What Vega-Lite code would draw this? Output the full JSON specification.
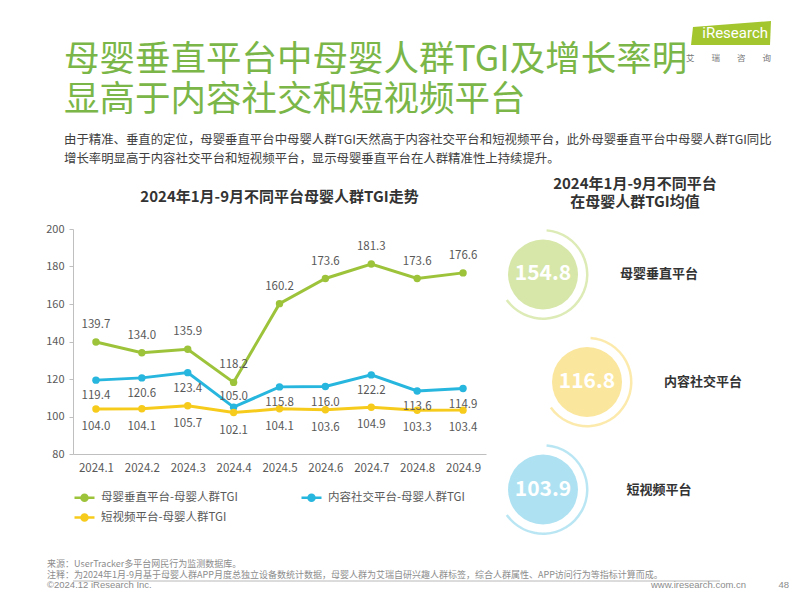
{
  "$schema": "https://vega.github.io/schema/vega-lite/v6.json",
  "background": "white",
  "padding": {"left": 45, "top": 16, "right": 0, "bottom": 0},
  "config": {
    "font": "Noto Sans CJK SC",
    "view": {"stroke": null},
    "title": {"font": "Noto Sans CJK SC"}
  },
  "spacing": 11,
  "vconcat": [
    {
      "width": 698,
      "height": 1,
      "data": {"values": [{"brand": "iResearch", "cn": "艾　　瑞　　咨　　询"}]},
      "title": {
        "text": ["母婴垂直平台中母婴人群TGI及增长率明", "显高于内容社交和短视频平台"],
        "subtitle": ["由于精准、垂直的定位，母婴垂直平台中母婴人群TGI天然高于内容社交平台和短视频平台，此外母婴垂直平台中母婴人群TGI同比", "增长率明显高于内容社交平台和短视频平台，显示母婴垂直平台在人群精准性上持续提升。"],
        "orient": "bottom",
        "anchor": "start",
        "offset": -20,
        "fontSize": 35.5,
        "fontWeight": "normal",
        "lineHeight": 40,
        "color": "#7ab648",
        "subtitleFontSize": 12.4,
        "subtitleColor": "#404040",
        "subtitleLineHeight": 19,
        "subtitlePadding": 16
      },
      "encoding": {
        "x": {"field": "brand", "type": "nominal", "scale": {"type": "point", "align": 1, "padding": 0}, "axis": null},
        "y": {"field": "brand", "type": "nominal", "scale": {"type": "point", "align": 0, "padding": 0}, "axis": {"title": null, "labelExpr": "'\u2003\u2003'", "labelFontSize": 9.5, "labelOpacity": 0, "labelPadding": 5, "tickSize": 4, "tickOpacity": 0, "domain": false, "grid": false}}
      },
      "layer": [
        {"mark": {"type": "point", "shape": "M-7.8,0.6L0,0L-0.1,2.4L-8,2.4Z", "size": 400, "filled": true, "color": "#a3c62f", "opacity": 1}},
        {"mark": {"type": "text", "font": "Roboto", "fontSize": 15, "color": "white", "align": "right", "baseline": "middle", "dx": -3, "dy": 12}, "encoding": {"text": {"field": "brand"}}},
        {"mark": {"type": "text", "fontSize": 8.5, "color": "#777777", "align": "right", "baseline": "middle", "dy": 37}, "encoding": {"text": {"field": "cn"}}}
      ]
    },
    {
      "spacing": 23,
      "vconcat": [
        {
          "spacing": 13,
          "resolve": {"scale": {"color": "independent"}, "legend": {"color": "independent"}},
          "hconcat": [
            {
              "width": 413,
              "height": 225,
              "title": {"text": [" ", "2024年1月-9月不同平台母婴人群TGI走势"], "lineHeight": 10, "fontSize": 15, "fontWeight": "bold", "color": "#333333", "offset": 18, "anchor": "middle"},
              "data": {"values": [
                {"month": "2024.1", "series": "母婴垂直平台-母婴人群TGI", "value": 139.7},
                {"month": "2024.2", "series": "母婴垂直平台-母婴人群TGI", "value": 134.0},
                {"month": "2024.3", "series": "母婴垂直平台-母婴人群TGI", "value": 135.9},
                {"month": "2024.4", "series": "母婴垂直平台-母婴人群TGI", "value": 118.2},
                {"month": "2024.5", "series": "母婴垂直平台-母婴人群TGI", "value": 160.2},
                {"month": "2024.6", "series": "母婴垂直平台-母婴人群TGI", "value": 173.6},
                {"month": "2024.7", "series": "母婴垂直平台-母婴人群TGI", "value": 181.3},
                {"month": "2024.8", "series": "母婴垂直平台-母婴人群TGI", "value": 173.6},
                {"month": "2024.9", "series": "母婴垂直平台-母婴人群TGI", "value": 176.6},
                {"month": "2024.1", "series": "内容社交平台-母婴人群TGI", "value": 119.4},
                {"month": "2024.2", "series": "内容社交平台-母婴人群TGI", "value": 120.6},
                {"month": "2024.3", "series": "内容社交平台-母婴人群TGI", "value": 123.4},
                {"month": "2024.4", "series": "内容社交平台-母婴人群TGI", "value": 105.0},
                {"month": "2024.5", "series": "内容社交平台-母婴人群TGI", "value": 115.8},
                {"month": "2024.6", "series": "内容社交平台-母婴人群TGI", "value": 116.0},
                {"month": "2024.7", "series": "内容社交平台-母婴人群TGI", "value": 122.2},
                {"month": "2024.8", "series": "内容社交平台-母婴人群TGI", "value": 113.6},
                {"month": "2024.9", "series": "内容社交平台-母婴人群TGI", "value": 114.9},
                {"month": "2024.1", "series": "短视频平台-母婴人群TGI", "value": 104.0},
                {"month": "2024.2", "series": "短视频平台-母婴人群TGI", "value": 104.1},
                {"month": "2024.3", "series": "短视频平台-母婴人群TGI", "value": 105.7},
                {"month": "2024.4", "series": "短视频平台-母婴人群TGI", "value": 102.1},
                {"month": "2024.5", "series": "短视频平台-母婴人群TGI", "value": 104.1},
                {"month": "2024.6", "series": "短视频平台-母婴人群TGI", "value": 103.6},
                {"month": "2024.7", "series": "短视频平台-母婴人群TGI", "value": 104.9},
                {"month": "2024.8", "series": "短视频平台-母婴人群TGI", "value": 103.3},
                {"month": "2024.9", "series": "短视频平台-母婴人群TGI", "value": 103.4}
              ]},
              "encoding": {
                "x": {"field": "month", "type": "ordinal", "axis": {"title": null, "labelAngle": 0, "labelFontSize": 11.5, "labelColor": "#595959", "ticks": false, "domainColor": "#bfbfbf", "labelPadding": 8}},
                "y": {"field": "value", "type": "quantitative", "scale": {"domain": [80, 200]}, "axis": {"title": null, "values": [80, 100, 120, 140, 160, 180, 200], "grid": false, "labelFontSize": 11, "labelColor": "#595959", "domainColor": "#bfbfbf", "tickColor": "#bfbfbf", "tickSize": 4, "labelPadding": 5}},
                "color": {
                  "field": "series", "type": "nominal",
                  "scale": {"domain": ["母婴垂直平台-母婴人群TGI", "内容社交平台-母婴人群TGI", "短视频平台-母婴人群TGI"], "range": ["#9dc33b", "#27b6de", "#f7cb1c"]},
                  "legend": {"title": null, "orient": "bottom", "columns": 2, "symbolType": "M-1,0L1,0M-0.3,0A0.3,0.3 0 1 1 0.3,0A0.3,0.3 0 1 1 -0.3,0", "symbolSize": 400, "symbolStrokeWidth": 2.5, "labelFontSize": 11.5, "labelColor": "#595959", "columnPadding": 58, "rowPadding": -2, "offset": 12, "labelOffset": 5}
                }
              },
              "layer": [
                {"mark": {"type": "line", "strokeWidth": 3}},
                {"mark": {"type": "point", "filled": true, "size": 55, "opacity": 1}},
                {"transform": [{"filter": "datum.series === '母婴垂直平台-母婴人群TGI'"}], "mark": {"type": "text", "dy": -17, "fontSize": 11.5}, "encoding": {"text": {"field": "value", "format": ".1f"}, "color": {"value": "#595959"}}},
                {"transform": [{"filter": "datum.series === '内容社交平台-母婴人群TGI' && datum.month !== '2024.4'"}], "mark": {"type": "text", "dy": 16, "fontSize": 11.5}, "encoding": {"text": {"field": "value", "format": ".1f"}, "color": {"value": "#595959"}}},
                {"transform": [{"filter": "datum.series === '内容社交平台-母婴人群TGI' && datum.month === '2024.4'"}], "mark": {"type": "text", "dy": -10, "fontSize": 11.5}, "encoding": {"text": {"field": "value", "format": ".1f"}, "color": {"value": "#595959"}}},
                {"transform": [{"filter": "datum.series === '短视频平台-母婴人群TGI'"}], "mark": {"type": "text", "dy": 18, "fontSize": 11.5}, "encoding": {"text": {"field": "value", "format": ".1f"}, "color": {"value": "#595959"}}}
              ]
            },
            {
              "width": 272,
              "height": 306,
              "title": {"text": ["2024年1月-9月不同平台", "在母婴人群TGI均值"], "lineHeight": 18, "fontSize": 15, "fontWeight": "bold", "color": "#333333", "offset": 19, "anchor": "middle"},
              "data": {"values": [
                {"platform": "母婴垂直平台", "avg": 154.8},
                {"platform": "内容社交平台", "avg": 116.8},
                {"platform": "短视频平台", "avg": 103.9}
              ]},
              "transform": [{"calculate": "datum.platform === '内容社交平台' ? 1 : 0", "as": "indent"}],
              "encoding": {
                "x": {"field": "indent", "type": "quantitative", "scale": {"domain": [-1, 5.18]}, "axis": null},
                "y": {"field": "platform", "type": "nominal", "sort": ["母婴垂直平台", "内容社交平台", "短视频平台"], "scale": {"type": "point", "padding": 0.423}, "axis": null}
              },
              "layer": [
                {"mark": {"type": "arc", "radius": 35, "theta": 0, "theta2": 6.2832}, "encoding": {"fill": {"field": "platform", "type": "nominal", "scale": {"domain": ["母婴垂直平台", "内容社交平台", "短视频平台"], "range": ["#d7e7a9", "#fbe69e", "#aee2f2"]}, "legend": null}}},
                {"mark": {"type": "arc", "radius": 45.5, "radius2": 43, "theta": 0.08, "theta2": 4.1, "opacity": 0.85}, "encoding": {"fill": {"field": "platform", "type": "nominal", "scale": {"domain": ["母婴垂直平台", "内容社交平台", "短视频平台"], "range": ["#d7e7a9", "#fbe69e", "#aee2f2"]}, "legend": null}}},
                {"mark": {"type": "text", "fontSize": 21, "fontWeight": "bold", "baseline": "middle", "color": "white"}, "encoding": {"text": {"field": "avg", "format": ".1f"}}},
                {"mark": {"type": "text", "dx": 116, "fontSize": 13, "fontWeight": "bold", "baseline": "middle", "color": "#333333"}, "encoding": {"text": {"field": "platform"}}}
              ]
            }
          ]
        },
        {
          "width": 673,
          "height": 12,
          "data": {"values": [{"left": "©2024.12 iResearch Inc.", "right": "www.iresearch.com.cn", "page": "48"}]},
          "title": {
            "text": ["来源：UserTracker多平台网民行为监测数据库。", "注释：为2024年1月-9月基于母婴人群APP月度总独立设备数统计数据，母婴人群为艾瑞自研兴趣人群标签，综合人群属性、APP访问行为等指标计算而成。"],
            "orient": "top", "anchor": "start", "fontSize": 9, "fontWeight": "normal", "color": "#8c8c8c", "lineHeight": 11.5, "offset": -4
          },
          "encoding": {
            "y": {"field": "left", "type": "nominal", "scale": {"type": "point", "align": 0, "padding": 0}, "axis": {"title": null, "labelExpr": "'\u2003\u2003'", "labelFontSize": 9.5, "labelOpacity": 0, "labelPadding": 5, "tickSize": 4, "tickOpacity": 0, "domain": false, "grid": false}}
          },
          "layer": [
            {"mark": {"type": "rule", "color": "#a6a6a6", "strokeWidth": 0.8, "xOffset": -26, "x2Offset": -8}},
            {"mark": {"type": "text", "align": "left", "baseline": "middle", "dy": 4, "dx": -26, "font": "Liberation Sans", "fontSize": 9.5, "color": "#8c8c8c"}, "encoding": {"x": {"field": "left", "type": "nominal", "scale": {"type": "point", "align": 0, "padding": 0}, "axis": null}, "text": {"field": "left"}}},
            {"mark": {"type": "text", "align": "right", "baseline": "middle", "dy": 4, "font": "Liberation Sans", "fontSize": 9.5, "color": "#8c8c8c"}, "encoding": {"x": {"field": "right", "type": "nominal", "scale": {"type": "point", "align": 1, "padding": 0}, "axis": null}, "text": {"field": "right"}}},
            {"mark": {"type": "text", "align": "right", "baseline": "middle", "dy": 4, "dx": 43, "font": "Liberation Sans", "fontSize": 9.5, "color": "#8c8c8c"}, "encoding": {"x": {"field": "page", "type": "nominal", "scale": {"type": "point", "align": 1, "padding": 0}, "axis": null}, "text": {"field": "page"}}}
          ],
          "resolve": {"scale": {"x": "independent"}}
        }
      ]
    }
  ]
}
